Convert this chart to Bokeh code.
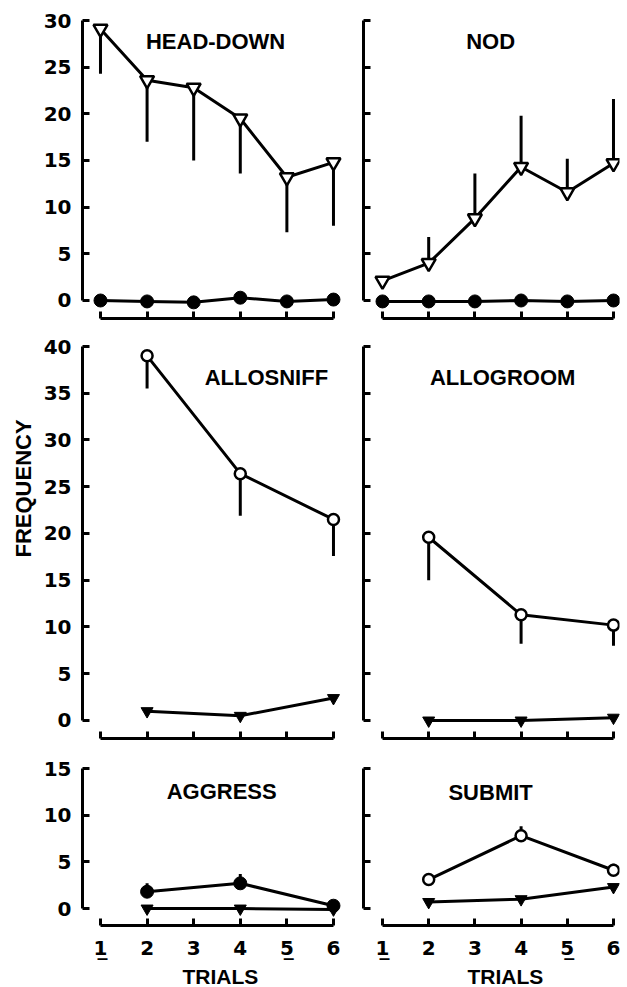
import math
from bokeh.plotting import figure
from bokeh.layouts import column, row
from bokeh.models import FixedTicker, Label, Range1d, Title
from bokeh.embed import file_html
from bokeh.resources import INLINE

# ---------------- data ----------------
trials = [1, 2, 3, 4, 5, 6]
trials_even = [2, 4, 6]
x_tick_labels = {1: "1\u0332", 2: "2", 3: "3", 4: "4", 5: "5\u0332", 6: "6"}

head_down_tri = [29.1, 23.6, 22.8, 19.5, 13.2, 14.8]
head_down_tri_low = [24.3, 17.0, 15.0, 13.6, 7.3, 8.0]
head_down_dot = [0.0, -0.1, -0.2, 0.3, -0.1, 0.1]

nod_tri = [2.1, 4.0, 8.8, 14.3, 11.6, 14.7]
nod_tri_high = [2.1, 6.8, 13.6, 19.8, 15.2, 21.6]
nod_dot = [-0.1, -0.1, -0.1, 0.0, -0.1, 0.0]

allosniff_circ = [39.0, 26.4, 21.5]
allosniff_circ_low = [35.5, 21.9, 17.6]
allosniff_tri = [1.0, 0.5, 2.4]

allogroom_circ = [19.6, 11.3, 10.2]
allogroom_circ_low = [15.0, 8.2, 8.0]
allogroom_tri = [0.0, 0.0, 0.3]

aggress_dot = [1.8, 2.7, 0.3]
aggress_dot_high = [2.7, 3.7, 0.3]
aggress_tri = [0.0, 0.0, -0.1]

submit_circ = [3.1, 7.8, 4.1]
submit_circ_high = [3.1, 8.8, 4.8]
submit_tri = [0.7, 1.0, 2.3]

y_ticks_top = [0, 5, 10, 15, 20, 25, 30]
y_ticks_mid = [0, 5, 10, 15, 20, 25, 30, 35, 40]
y_ticks_bot = [0, 5, 10, 15]

FONT = "Liberation Sans"
TICK_FONT = "DejaVu Sans"
LW = 3
FS = "22px"


def make_panel(width, height, x_range, y_range, ymax, yticks,
               mb, show_y, show_x):
    p = figure(width=width, height=height,
               x_range=Range1d(*x_range), y_range=Range1d(*y_range),
               output_backend="svg", toolbar_location=None,
               min_border_left=mb[0], min_border_right=mb[1],
               min_border_top=mb[2], min_border_bottom=mb[3])
    p.grid.visible = False
    p.outline_line_color = None
    p.background_fill_color = "white"
    p.border_fill_color = "white"
    xa = p.xaxis[0]
    ya = p.yaxis[0]
    for ax in (xa, ya):
        ax.axis_line_width = LW
        ax.axis_line_color = "black"
        ax.major_tick_line_width = LW
        ax.major_tick_line_color = "black"
        ax.major_tick_in = 7
        ax.major_tick_out = 0
        ax.minor_tick_line_color = None
        ax.major_label_text_font = TICK_FONT
        ax.major_label_text_font_style = "bold"
        ax.major_label_text_font_size = "20px"
        ax.major_label_text_color = "black"
    ya.ticker = FixedTicker(ticks=yticks)
    ya.bounds = (0, ymax)
    xa.ticker = FixedTicker(ticks=trials)
    xa.bounds = (1, 6)
    if show_y:
        ya.major_label_standoff = 11
    else:
        ya.major_label_overrides = {t: "" for t in yticks}
        ya.major_label_text_font_size = "10px"
        ya.major_label_standoff = 0
    if show_x:
        xa.major_label_standoff = 10
        xa.major_label_overrides = x_tick_labels
    else:
        xa.major_label_overrides = {t: "" for t in trials}
        xa.major_label_text_font_size = "10px"
        xa.major_label_standoff = 0
    return p


def text_label(p, text, x, y):
    p.add_layout(Label(x=x, y=y, text=text, text_font=FONT,
                       text_font_style="bold", text_font_size=FS,
                       text_align="center", text_baseline="middle",
                       text_color="black"))


def side_title(p, text, side, offset, standoff=0, size=FS):
    p.add_layout(Title(text=text, align="left", offset=offset,
                       standoff=standoff, text_font=FONT,
                       text_font_style="bold", text_font_size=size,
                       text_color="black"), side)


def open_tri(p, xs, ys):
    p.scatter(xs, ys, marker="inverted_triangle", size=14, fill_color="white",
              line_color="black", line_width=2.5)


def filled_tri(p, xs, ys):
    p.scatter(xs, ys, marker="inverted_triangle", size=12, fill_color="black",
              line_color="black", line_width=1)


def filled_dot(p, xs, ys):
    p.scatter(xs, ys, marker="circle", size=13, fill_color="black",
              line_color="black", line_width=1)


def open_dot(p, xs, ys):
    p.scatter(xs, ys, marker="circle", size=11, fill_color="white",
              line_color="black", line_width=2.5)


def err(p, xs, y0, y1):
    p.segment(x0=xs, y0=y0, x1=xs, y1=y1, line_color="black", line_width=LW)


def line(p, xs, ys):
    p.line(xs, ys, line_color="black", line_width=LW)


LX = (0.614, 6.258)
RX = (0.589, 6.13)
LW_FIG, RW_FIG = 348, 279
LMB = (82, 3)
RMB = (15, 8)

# ---------------- row 1 ----------------
yr1 = (-1.929, 30.536)
p1 = make_panel(LW_FIG, 330, LX, yr1, 30, y_ticks_top,
                (LMB[0], LMB[1], 15, 12), True, False)
line(p1, trials, head_down_tri)
err(p1, trials, head_down_tri, head_down_tri_low)
line(p1, trials, head_down_dot)
open_tri(p1, trials, head_down_tri)
filled_dot(p1, trials, head_down_dot)
text_label(p1, "HEAD-DOWN", 3.47, 27.7)

p2 = make_panel(RW_FIG, 330, RX, yr1, 30, y_ticks_top,
                (RMB[0], RMB[1], 15, 12), False, False)
line(p2, trials, nod_tri)
err(p2, trials, nod_tri, nod_tri_high)
line(p2, trials, nod_dot)
open_tri(p2, trials, nod_tri)
filled_dot(p2, trials, nod_dot)
text_label(p2, "NOD", 3.34, 27.7)

# ---------------- row 2 ----------------
yr2 = (-1.927, 40.535)
p3 = make_panel(LW_FIG, 420, LX, yr2, 40, y_ticks_mid,
                (LMB[0], LMB[1], 11, 12), True, False)
line(p3, trials_even, allosniff_circ)
err(p3, trials_even, allosniff_circ, allosniff_circ_low)
line(p3, trials_even, allosniff_tri)
open_dot(p3, trials_even, allosniff_circ)
filled_tri(p3, trials_even, allosniff_tri)
text_label(p3, "ALLOSNIFF", 4.56, 36.7)
side_title(p3, "FREQUENCY", "left", 181, standoff=10)

p4 = make_panel(RW_FIG, 420, RX, yr2, 40, y_ticks_mid,
                (RMB[0], RMB[1], 11, 12), False, False)
line(p4, trials_even, allogroom_circ)
err(p4, trials_even, allogroom_circ, allogroom_circ_low)
line(p4, trials_even, allogroom_tri)
open_dot(p4, trials_even, allogroom_circ)
filled_tri(p4, trials_even, allogroom_tri)
text_label(p4, "ALLOGROOM", 3.6, 36.7)

# ---------------- row 3 ----------------
yr3 = (-1.82, 15.536)
p5 = make_panel(LW_FIG, 237, LX, yr3, 15, y_ticks_bot,
                (LMB[0], LMB[1], 13, 62), True, True)
line(p5, trials_even, aggress_tri)
line(p5, trials_even, aggress_dot)
err(p5, trials_even, aggress_dot, aggress_dot_high)
filled_tri(p5, trials_even, aggress_tri)
filled_dot(p5, trials_even, aggress_dot)
text_label(p5, "AGGRESS", 3.6, 12.5)
side_title(p5, "TRIALS", "below", 100, standoff=0, size="21px")

p6 = make_panel(RW_FIG, 237, RX, yr3, 15, y_ticks_bot,
                (RMB[0], RMB[1], 13, 62), False, True)
line(p6, trials_even, submit_tri)
line(p6, trials_even, submit_circ)
err(p6, trials_even, submit_circ, submit_circ_high)
filled_tri(p6, trials_even, submit_tri)
open_dot(p6, trials_even, submit_circ)
text_label(p6, "SUBMIT", 3.34, 12.4)
side_title(p6, "TRIALS", "below", 104, standoff=0, size="21px")

layout = column(row(p1, p2), row(p3, p4), row(p5, p6))

open("out.html", "w").write(file_html(layout, INLINE))
